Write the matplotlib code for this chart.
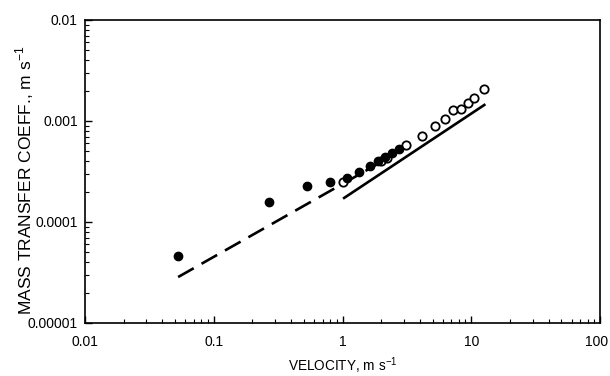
import matplotlib
matplotlib.use("Agg")
import matplotlib.pyplot as plt
import matplotlib.transforms as mtransforms
from matplotlib.ticker import LogLocator, FixedLocator, FixedFormatter, NullFormatter

plt.rcParams['font.family'] = ['Liberation Sans', 'DejaVu Sans']
plt.rcParams['mathtext.fontset'] = 'custom'
plt.rcParams['mathtext.rm'] = 'Liberation Sans'

# Filled circles (data set 1)
filled_x = [0.053, 0.27, 0.53, 0.80, 1.08, 1.34, 1.64, 1.89, 2.14, 2.42, 2.75]
filled_y = [4.6e-5, 1.58e-4, 2.27e-4, 2.49e-4, 2.73e-4, 3.13e-4, 3.58e-4, 4.02e-4, 4.40e-4, 4.83e-4, 5.28e-4]

# Open circles (data set 2)
open_x = [1.0, 1.99, 2.2, 3.11, 4.14, 5.23, 6.25, 7.21, 8.32, 9.43, 10.5, 12.6]
open_y = [2.5e-4, 4.0e-4, 4.3e-4, 5.78e-4, 7.10e-4, 8.9e-4, 1.05e-3, 1.28e-3, 1.31e-3, 1.51e-3, 1.69e-3, 2.07e-3]

# Correlation lines
dashed_x = [0.053, 2.34]
dashed_y = [2.85e-5, 4.4e-4]
solid_x = [1.03, 12.6]
solid_y = [1.73e-4, 1.44e-3]

x_ticks = [0.01, 0.1, 1, 10, 100]
x_tick_labels = ["0.01", "0.1", "1", "10", "100"]
y_ticks = [0.00001, 0.0001, 0.001, 0.01]
y_tick_labels = ["0.00001", "0.0001", "0.001", "0.01"]

fig = plt.figure(figsize=(6.10, 3.76), dpi=100)
ax = fig.add_axes([0.139, 0.141, 0.845, 0.806])

ax.set_xscale('log')
ax.set_yscale('log')
ax.set_xlim(0.01, 100)
ax.set_ylim(1e-5, 1e-2)

ax.plot(dashed_x, dashed_y, color='black', lw=1.9, dashes=(6.8, 3.4), solid_capstyle='butt')
ax.plot(solid_x, solid_y, color='black', lw=1.9)
ax.plot(open_x, open_y, 'o', ms=6, mfc='white', mec='black', mew=1.3, ls='none')
ax.plot(filled_x, filled_y, 'o', ms=6, mfc='black', mec='black', ls='none')

ax.xaxis.set_major_locator(FixedLocator(x_ticks))
ax.xaxis.set_major_formatter(FixedFormatter(x_tick_labels))
ax.yaxis.set_major_locator(FixedLocator(y_ticks))
ax.yaxis.set_major_formatter(FixedFormatter(y_tick_labels))
ax.xaxis.set_minor_locator(LogLocator(base=10, subs=range(2, 10)))
ax.yaxis.set_minor_locator(LogLocator(base=10, subs=range(2, 10)))
ax.xaxis.set_minor_formatter(NullFormatter())
ax.yaxis.set_minor_formatter(NullFormatter())

ax.tick_params(which='major', direction='in', length=5, width=1, labelsize=10)
ax.tick_params(axis='x', which='major', pad=9)
ax.tick_params(axis='y', which='major', pad=5)
ax.tick_params(which='minor', direction='in', length=3, width=0.8)
for s in ax.spines.values():
    s.set_linewidth(1.2)

ax.set_xlabel(r"VELOCITY, m s$^{-1}$", fontsize=9.8, va='center')
ax.xaxis.set_label_coords(0.5, -0.14)
ax.set_ylabel(r"MASS TRANSFER COEFF., m s$^{-1}$", fontsize=12.5, va='center')
ax.yaxis.set_label_coords(-0.117, 0.47)

# keep the last x tick label ("100") inside the figure edge
fig.canvas.draw()
last = ax.get_xticklabels()[-1]
last.set_transform(last.get_transform() + mtransforms.ScaledTranslation(-4 / 100, 0, fig.dpi_scale_trans))

fig.savefig("out.png", dpi=100)
